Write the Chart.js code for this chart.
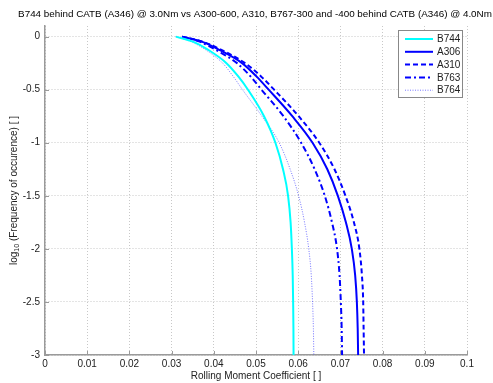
<!DOCTYPE html>
<html>
<head>
<meta charset="utf-8">
<script src="https://cdn.jsdelivr.net/npm/chart.js@4/dist/chart.umd.min.js"></script>
<style>
html,body{margin:0;padding:0;background:#fff;}
#wrap{width:493px;height:383px;position:relative;}
</style>
</head>
<body>
<div id="wrap"><canvas id="c" width="493" height="383"></canvas></div>
<script>
const titleText = "B744 behind CATB (A346) @ 3.0Nm vs A300-600, A310, B767-300 and -400 behind CATB (A346) @ 4.0Nm";
const xAxisTitle = "Rolling Moment Coefficient [ ]";
const yAxisTitleParts = ["log", "10", " (Frequency of occurence) [ ]"];
const seriesNames = ["B744", "A306", "A310", "B763", "B764"];

// log10 frequency levels (y) shared by all curves
const yLevels = [0, -0.05, -0.125, -0.25, -0.375, -0.5, -0.75, -1, -1.25, -1.5, -1.75, -2, -2.25, -2.5, -2.75, -3];
// rolling moment coefficient (x) for each series at those levels
const xB744 = [0.031, 0.0352, 0.0387, 0.0430, 0.0458, 0.0481, 0.0519, 0.0546, 0.0564, 0.0576, 0.0582, 0.0585, 0.0587, 0.0588, 0.05887, 0.0589];
const xA306 = [0.0325, 0.0373, 0.0413, 0.0467, 0.0501, 0.0530, 0.0586, 0.0634, 0.0669, 0.0694, 0.0713, 0.0727, 0.0735, 0.0739, 0.0741, 0.0742];
const xA310 = [0.0325, 0.0375, 0.0418, 0.0474, 0.0512, 0.0543, 0.0601, 0.0650, 0.0686, 0.0712, 0.0732, 0.0745, 0.0751, 0.0754, 0.0755, 0.0756];
const xB763 = [0.0325, 0.0368, 0.0405, 0.0455, 0.0487, 0.0513, 0.0565, 0.0607, 0.0639, 0.0663, 0.0680, 0.0692, 0.0698, 0.0701, 0.0703, 0.0704];
const xB764 = [0.031, 0.0348, 0.0381, 0.0421, 0.0446, 0.0468, 0.0514, 0.0555, 0.0581, 0.0601, 0.0615, 0.0625, 0.0631, 0.0634, 0.0636, 0.0637];

const xTickValues = [0, 0.01, 0.02, 0.03, 0.04, 0.05, 0.06, 0.07, 0.08, 0.09, 0.1];
const yTickValues = [0, -0.5, -1, -1.5, -2, -2.5, -3];

const seriesX = [xB744, xA306, xA310, xB763, xB764];
const styles = [
  {color: '#00ffff', width: 2, dash: []},
  {color: '#0000ff', width: 2, dash: []},
  {color: '#0000ff', width: 2, dash: [5, 3]},
  {color: '#0000ff', width: 2, dash: [6, 3, 2, 3]},
  {color: 'rgba(60,60,255,0.7)', width: 1, dash: [1, 1.5]}
];

const FONT = "'Liberation Sans', Arial, sans-serif";
const TEXT = '#222';
const AXIS = '#9a9a9a';

const datasets = seriesNames.map((n, i) => ({
  label: n,
  data: yLevels.map((y, k) => ({x: seriesX[i][k], y: y})),
  showLine: true,
  borderColor: styles[i].color,
  borderWidth: styles[i].width,
  borderDash: styles[i].dash,
  pointRadius: 0,
  cubicInterpolationMode: 'monotone',
  fill: false
}));

const overlay = {
  id: 'overlay',
  afterDatasetsDraw(chart) {
    const ctx = chart.ctx;
    const ca = chart.chartArea;
    const xs = chart.scales.x, ys = chart.scales.y;
    ctx.save();
    // inward tick marks
    ctx.strokeStyle = AXIS; ctx.lineWidth = 1;
    xTickValues.forEach(v => {
      const px = Math.round(xs.getPixelForValue(v)) + 0.5;
      ctx.beginPath(); ctx.moveTo(px, ca.bottom); ctx.lineTo(px, ca.bottom - 4); ctx.stroke();
    });
    yTickValues.forEach(v => {
      const py = Math.round(ys.getPixelForValue(v)) + 0.5;
      ctx.beginPath(); ctx.moveTo(ca.left, py); ctx.lineTo(ca.left + 4, py); ctx.stroke();
    });
    // legend
    const lx = 398.5, ly = 30.5, lw = 64, lh = 67;
    ctx.fillStyle = '#fff';
    ctx.fillRect(lx, ly, lw, lh);
    ctx.strokeStyle = '#888'; ctx.lineWidth = 1; ctx.setLineDash([]);
    ctx.strokeRect(lx, ly, lw, lh);
    ctx.font = "10px " + FONT;
    ctx.textBaseline = 'middle'; ctx.textAlign = 'left';
    seriesNames.forEach((n, i) => {
      const y = 39 + i * 12.8;
      ctx.strokeStyle = styles[i].color;
      ctx.lineWidth = styles[i].width;
      ctx.setLineDash(styles[i].dash);
      ctx.beginPath(); ctx.moveTo(405, y); ctx.lineTo(433, y); ctx.stroke();
      ctx.setLineDash([]);
      ctx.fillStyle = TEXT;
      ctx.fillText(n, 437, y + 0.5);
    });
    // title
    ctx.fillStyle = '#000';
    ctx.font = "9.85px " + FONT;
    ctx.textAlign = 'center'; ctx.textBaseline = 'middle';
    ctx.fillText(titleText, 255, 14);
    // x axis title
    ctx.font = "10px " + FONT;
    ctx.fillStyle = TEXT;
    ctx.fillText(xAxisTitle, (ca.left + ca.right) / 2, 376);
    // y axis title with subscript
    ctx.translate(14, (ca.top + ca.bottom) / 2);
    ctx.rotate(-Math.PI / 2);
    ctx.font = "10px " + FONT;
    const w0 = ctx.measureText(yAxisTitleParts[0]).width;
    const w2 = ctx.measureText(yAxisTitleParts[2]).width;
    ctx.font = "7px " + FONT;
    const w1 = ctx.measureText(yAxisTitleParts[1]).width;
    let x0 = -(w0 + w1 + w2) / 2;
    ctx.textAlign = 'left';
    ctx.font = "10px " + FONT;
    ctx.fillText(yAxisTitleParts[0], x0, 0);
    ctx.font = "7px " + FONT;
    ctx.fillText(yAxisTitleParts[1], x0 + w0, 3);
    ctx.font = "10px " + FONT;
    ctx.fillText(yAxisTitleParts[2], x0 + w0 + w1, 0);
    ctx.restore();
  }
};

new Chart(document.getElementById('c'), {
  type: 'scatter',
  data: {datasets},
  options: {
    responsive: false,
    animation: false,
    layout: {padding: {left: 0, top: 26, right: 26, bottom: 0}},
    plugins: {legend: {display: false}, title: {display: false}, tooltip: {enabled: false}},
    scales: {
      x: {
        type: 'linear', min: 0, max: 0.1,
        afterFit(s) { s.height = 28; },
        afterBuildTicks(s) { s.ticks = xTickValues.map(v => ({value: v})); },
        ticks: {
          font: {family: FONT, size: 10}, color: TEXT, padding: 3, maxRotation: 0, autoSkip: false,
          callback: v => String(Number(Number(v).toFixed(2)))
        },
        grid: {color: '#c8c8c8', lineWidth: 1, drawTicks: false},
        border: {display: true, color: AXIS, width: 1.5, dash: [1, 2]}
      },
      y: {
        type: 'linear', min: -3, max: 0.1,
        afterFit(s) { s.width = 45; },
        afterBuildTicks(s) { s.ticks = yTickValues.map(v => ({value: v})); },
        ticks: {
          font: {family: FONT, size: 10}, color: TEXT, padding: 5, autoSkip: false,
          callback: v => String(Number(Number(v).toFixed(2)))
        },
        grid: {color: '#c8c8c8', lineWidth: 1, drawTicks: false},
        border: {display: true, color: AXIS, width: 1.5, dash: [1, 2]}
      }
    }
  },
  plugins: [overlay]
});
</script>
</body>
</html>
